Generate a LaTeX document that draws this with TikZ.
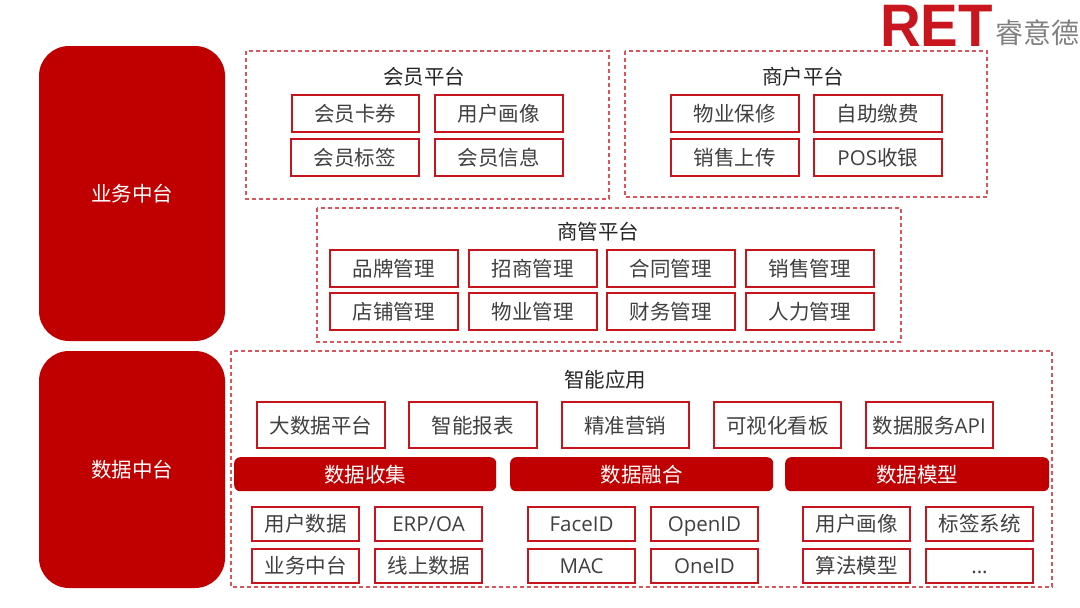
\documentclass[tikz,border=0pt]{standalone}
\usepackage{fontspec}
\usepackage[dvipsnames]{xcolor}
\usepackage{tikz}
\setmainfont{Liberation Sans}
\newfontfamily\cjk{Noto Sans CJK SC}
\newfontfamily\lat{Open Sans}
\definecolor{retred}{HTML}{C00000}
\definecolor{linered}{HTML}{C8141C}
\definecolor{logored}{HTML}{C9151E}
\definecolor{dashred}{HTML}{D9555A}
\definecolor{textgray}{HTML}{404040}
\tikzset{
	bigblock/.style={fill=retred, rounded corners=30pt, inner sep=0pt, minimum width=186pt, text=white, font=\cjk\fontsize{20.5}{24}\selectfont},
	platform/.style={draw=dashred, dashed, dash pattern=on 4pt off 3pt, line width=1.1pt},
	title/.style={text=black!85, inner sep=0pt, font=\cjk\fontsize{20.5}{24}\selectfont},
	item/.style={draw=linered, line width=2pt, fill=white, text=textgray, inner sep=0pt, text height=16pt, text depth=0pt, minimum width=127.5pt, minimum height=36.5pt, anchor=north west, font=\cjk\fontsize{20.5}{24}\selectfont},
	tallitem/.style={item, minimum height=46pt},
	smallitem/.style={item, minimum width=107pt, minimum height=33.5pt},
	header/.style={fill=retred, rounded corners=6pt, text=white, inner sep=0pt, text height=16pt, text depth=0pt, minimum height=34pt, anchor=north west, font=\cjk\fontsize{20.5}{24}\selectfont},
}

\begin{document}
\begin{tikzpicture}[x=1pt,y=-1pt]
	\useasboundingbox (0,0) rectangle (1080,608);

	% Left blocks
	\node[bigblock, minimum height=295pt] (business) at (132,193.5) {业务中台};
	\node[bigblock, minimum height=237pt] (data) at (132,469.5) {数据中台};

	% Dashed platforms
	\draw[platform] (246,51) rectangle (609,199);
	\draw[platform] (625,51) rectangle (987,197);
	\draw[platform] (317,208) rectangle (901,342);
	\draw[platform] (231,351) rectangle (1052,587);

	% Platform titles
	\node[title] (member) at (424,77) {会员平台};
	\node[title] (merchant) at (803,77) {商户平台};
	\node[title] (manage) at (598,232) {商管平台};
	\node[title] (smart) at (605,380) {智能应用};

	% Member platform
	\node[item] (card) at (290.5,94) {会员卡券};
	\node[item] (portrait) at (434,94) {用户画像};
	\node[item] (tag) at (290,138) {会员标签};
	\node[item] (info) at (434,138) {会员信息};

	% Merchant platform
	\node[item] (repair) at (670,94) {物业保修};
	\node[item] (payment) at (813,94) {自助缴费};
	\node[item] (upload) at (670,138) {销售上传};
	\node[item] (pos) at (813,138) {{\lat POS}收银};

	% Commerce management
	\node[item] (brand) at (329,249) {品牌管理};
	\node[item] (invite) at (468,249) {招商管理};
	\node[item] (contract) at (606,249) {合同管理};
	\node[item] (sales) at (745,249) {销售管理};
	\node[item] (shop) at (329,292) {店铺管理};
	\node[item] (property) at (468,292) {物业管理};
	\node[item] (finance) at (606,292) {财务管理};
	\node[item] (staff) at (745,292) {人力管理};

	% Smart applications
	\node[tallitem] (bigdata) at (256,401) {大数据平台};
	\node[tallitem] (report) at (408,401) {智能报表};
	\node[tallitem] (marketing) at (560.5,401) {精准营销};
	\node[tallitem] (board) at (712.5,401) {可视化看板};
	\node[tallitem] (api) at (864.5,401) {数据服务{\lat API}};

	% Data headers
	\node[header, minimum width=262pt] (collect) at (234,457) {数据收集};
	\node[header, minimum width=263pt] (fusion) at (510,457) {数据融合};
	\node[header, minimum width=264pt] (model) at (785,457) {数据模型};

	% Data collection
	\node[smallitem] (userdata) at (251,506) {用户数据};
	\node[smallitem] (erp) at (374,506) {\lat ERP/OA};
	\node[smallitem] (bizcenter) at (251,548) {业务中台};
	\node[smallitem] (online) at (374,548) {线上数据};

	% Data fusion
	\node[smallitem] (faceid) at (527,506) {\lat FaceID};
	\node[smallitem] (openid) at (650,506) {\lat OpenID};
	\node[smallitem] (mac) at (527,548) {\lat MAC};
	\node[smallitem] (oneid) at (650,548) {\lat OneID};

	% Data model
	\node[smallitem] (userportrait) at (802,506) {用户画像};
	\node[smallitem] (labels) at (925,506) {标签系统};
	\node[smallitem] (algorithm) at (802,548) {算法模型};
	\node[smallitem] (more) at (925,548) {\lat ...};

	% Logo
	\node[text=logored, inner sep=0pt, anchor=south west, font=\bfseries\fontsize{60}{60}\selectfont] (ret) at (880,46.5) {\scalebox{0.94}[1]{RET}};
	\node[text=gray, inner sep=0pt, anchor=center, font=\cjk\fontsize{28}{30}\selectfont] (logotext) at (1037,33) {睿意德};
\end{tikzpicture}
\end{document}
